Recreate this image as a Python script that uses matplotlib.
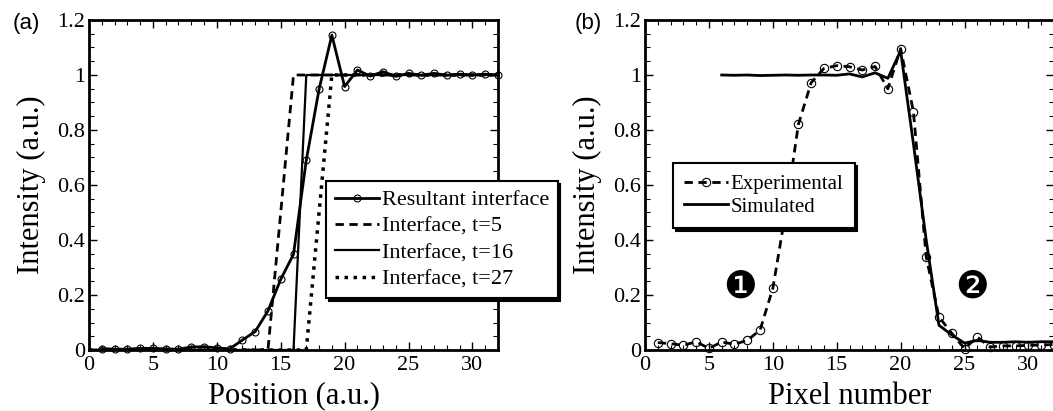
import numpy as np
import matplotlib
matplotlib.use('Agg')
import matplotlib.pyplot as plt
from matplotlib.ticker import MultipleLocator, FormatStrFormatter

plt.rcParams['font.family'] = ['Liberation Serif', 'DejaVu Serif']

# ---- panel (a) data
pos = np.arange(1, 33)
resultant = [0.005, 0.003, 0.003, 0.006, 0.006, 0.004, 0.003, 0.011, 0.012, 0.008,
             0.004, 0.036, 0.067, 0.142, 0.257, 0.348, 0.69, 0.948, 1.145, 0.958,
             1.018, 0.996, 1.012, 0.995, 1.006, 0.999, 1.006, 0.999, 1.003, 1.0,
             1.003, 1.0]
t5_x = [0, 14, 16, 32]
t5_y = [0, 0, 1, 1]
t16_x = [0, 16, 17, 32]
t16_y = [0, 0, 1, 1]
t27_x = [0, 17, 19, 32]
t27_y = [0, 0, 1, 1]

# ---- panel (b) data
pix = np.arange(1, 33)
experimental = [0.027, 0.023, 0.017, 0.030, 0.006, 0.029, 0.021, 0.035, 0.072, 0.224,
                0.50, 0.82, 0.972, 1.024, 1.034, 1.030, 1.018, 1.031, 0.95, 1.096,
                0.867, 0.339, 0.12, 0.061, 0.005, 0.047, 0.011, 0.015, 0.015, 0.017,
                0.018, 0.02]
sim_x = np.arange(6, 33)
simulated = [1.0, 0.999, 1.0, 0.998, 0.999, 1.0, 0.999, 1.0, 1.0, 0.999,
             1.004, 0.993, 1.008, 0.988, 1.088, 0.75, 0.40, 0.09, 0.055, 0.025,
             0.035, 0.028, 0.028, 0.03, 0.028, 0.03, 0.03]

W, H = 1053, 411
fig = plt.figure(figsize=(W/100, H/100), dpi=100)
ax1 = fig.add_axes([89/W, 61/H, 409/W, 330/H])
ax2 = fig.add_axes([645/W, 61/H, 409/W, 330/H])

def style(ax):
    ax.set_xlim(0, 32)
    ax.set_ylim(0, 1.2)
    ax.xaxis.set_major_locator(MultipleLocator(5))
    ax.xaxis.set_minor_locator(MultipleLocator(1))
    ax.yaxis.set_major_locator(MultipleLocator(0.2))
    ax.yaxis.set_minor_locator(MultipleLocator(0.05))
    ax.yaxis.set_major_formatter(FormatStrFormatter('%g'))
    ax.tick_params(which='both', direction='in', top=True, right=True, labelsize=16)
    ax.tick_params(which='major', length=6, width=1)
    ax.tick_params(which='minor', length=3.5, width=0.8)
    ax.tick_params(axis='x', pad=4)
    ax.tick_params(axis='y', pad=3)
    for s in ax.spines.values():
        s.set_linewidth(2)
    ax.set_ylabel('Intensity (a.u.)', fontsize=22, labelpad=8)

style(ax1)
style(ax2)

ax1.plot(pos, resultant, '-', color='k', lw=2, marker='o', ms=5, mfc='none',
         mec='k', mew=0.8, label='Resultant interface', clip_on=False, zorder=5)
ax1.plot(t5_x, t5_y, '--', color='k', lw=2, label='Interface, t=5', dashes=(3, 2))
ax1.plot(t16_x, t16_y, '-', color='k', lw=1.6, label='Interface, t=16')
ax1.plot(t27_x, t27_y, ':', color='k', lw=2.5, label='Interface, t=27', dashes=(1, 1.6))
ax1.set_xlabel('Position (a.u.)', fontsize=22, labelpad=5)
leg1 = ax1.legend(loc='upper left', bbox_to_anchor=(326/W, (H-181)/H),
                  bbox_transform=fig.transFigure, fontsize=16, frameon=True,
                  fancybox=False, framealpha=1, edgecolor='k', borderpad=0.4,
                  handlelength=2.0, handletextpad=0.1, labelspacing=0.26,
                  borderaxespad=0, shadow={'color': 'k', 'alpha': 1})
leg1.get_frame().set_linewidth(1.5)

ax2.plot(pix, experimental, '--', color='k', lw=2, dashes=(3, 2), marker='o', ms=6,
         mfc='none', mec='k', mew=0.8, label='Experimental', clip_on=False, zorder=4)
ax2.plot(sim_x, simulated, '-', color='k', lw=2, label='Simulated', zorder=5)
ax2.set_xlabel('Pixel number', fontsize=22, labelpad=5)
leg2 = ax2.legend(loc='upper left', bbox_to_anchor=(673/W, (H-163)/H),
                  bbox_transform=fig.transFigure, fontsize=15, frameon=True,
                  fancybox=False, framealpha=1, edgecolor='k', borderpad=0.55,
                  handlelength=2.1, handletextpad=0.1, labelspacing=0.15,
                  borderaxespad=0, shadow={'color': 'k', 'alpha': 1})
leg2.get_frame().set_linewidth(1.5)

ax2.text(7.45, 0.225, '\u2776', fontsize=27, family='DejaVu Sans', ha='center', va='center')
ax2.text(25.55, 0.225, '\u2777', fontsize=27, family='DejaVu Sans', ha='center', va='center')

fig.text(26/W, (H-24)/H, '(a)', fontsize=16, family='Liberation Sans', ha='center', va='center')
fig.text(588/W, (H-24)/H, '(b)', fontsize=16, family='Liberation Sans', ha='center', va='center')

fig.savefig('out.png', dpi=100)
